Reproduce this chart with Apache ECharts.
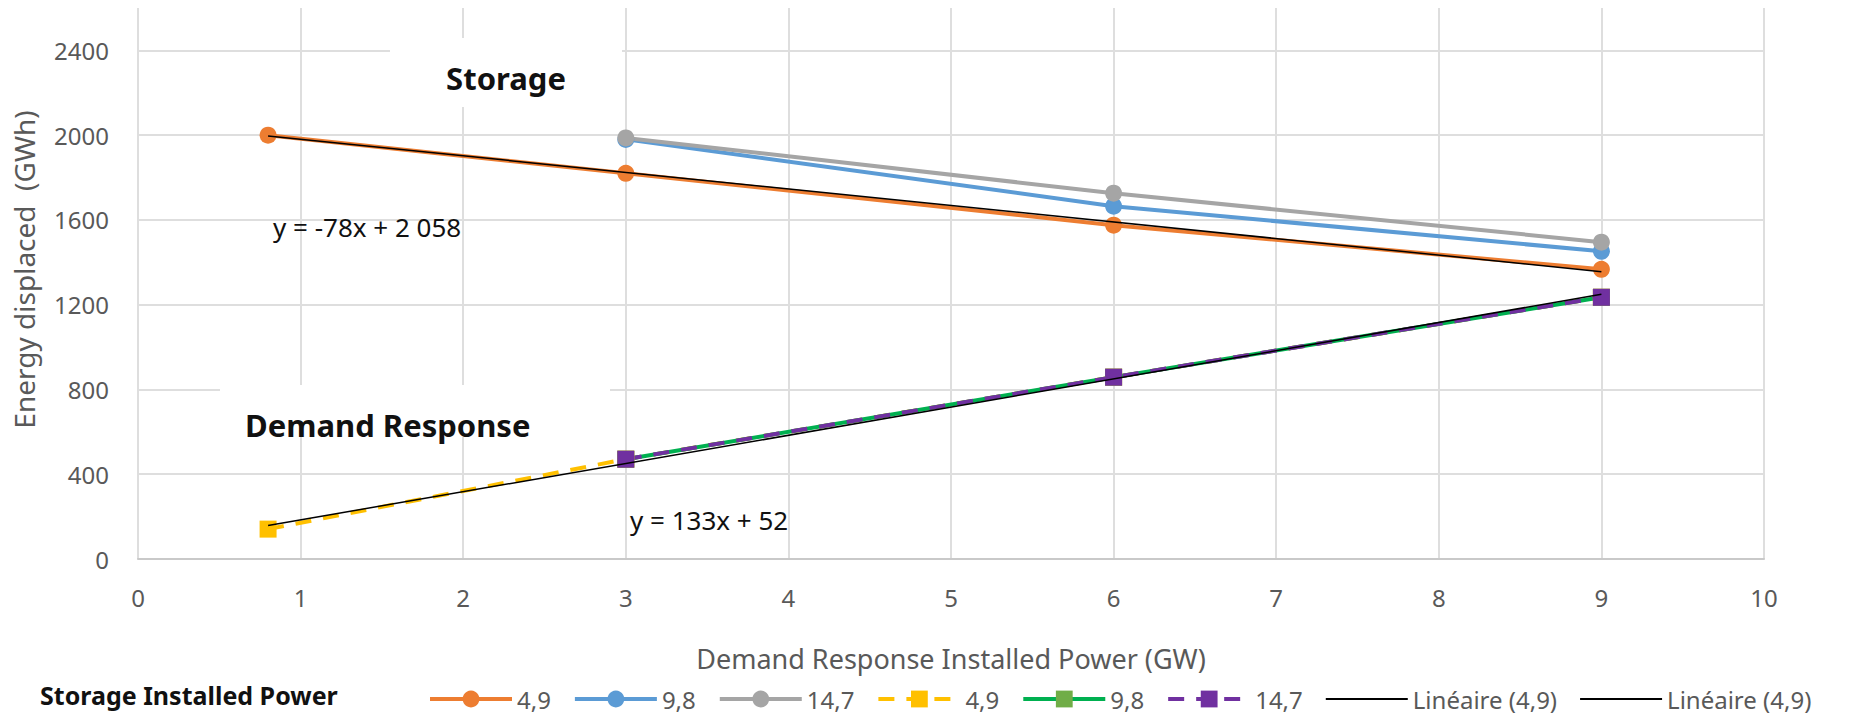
<!DOCTYPE html>
<html lang="en" style="height: 100%">

<head>
  <meta charset="utf-8">
</head>

<body style="height: 100%; margin: 0">
  <div id="container" style="width: 1849px; height: 721px"></div>

  <script type="text/javascript" src="https://fastly.jsdelivr.net/npm/echarts@6/dist/echarts.min.js"></script>

  <script type="text/javascript">
    // x positions (GW of demand response installed)
    var xStorage49 = [0.8, 3, 6, 9];
    var xStorageOther = [3, 6, 9];
    var xDr49 = [0.8, 3, 6, 9];
    var xDrOther = [3, 6, 9];

    // energy displaced (GWh)
    var storage49 = [2000, 1820, 1575, 1367];
    var storage98 = [1980, 1665, 1452];
    var storage147 = [1987, 1726, 1495];
    var dr49 = [141, 471, 858, 1235];
    var dr98 = [471, 858, 1235];
    var dr147 = [471, 858, 1235];

    // linear trend lines, end points
    var trendStorageX = [0.8, 9];
    var trendStorageY = [1996, 1356];
    var trendDrX = [0.8, 9];
    var trendDrY = [158, 1249];

    var xTicks = [0, 1, 2, 3, 4, 5, 6, 7, 8, 9, 10];
    var yTicks = [0, 400, 800, 1200, 1600, 2000, 2400];

    var legendLabels = {
      's49': '4,9', 's98': '9,8', 's147': '14,7',
      'd49': '4,9', 'd98': '9,8', 'd147': '14,7',
      'ts': 'Linéaire (4,9)', 'td': 'Linéaire (4,9)'
    };

    function zip(xs, ys) {
      return xs.map(function (x, i) { return [x, ys[i]]; });
    }

    var dom = document.getElementById('container');
    var myChart = echarts.init(dom, null, { renderer: 'svg' });

    var grey = '#595959';
    var font = 'Noto Sans';

    var legendData = ['s49', 's98', 's147', 'd49', 'd98', 'd147'].map(function (n) {
      return { name: n, lineStyle: { width: 4 } };
    }).concat([{ name: 'ts' }, { name: 'td' }]);

    var option = {
      animation: false,
      textStyle: { fontFamily: font },
      grid: { left: 138, right: 85, top: 8, bottom: 162 },
      xAxis: {
        type: 'value',
        min: xTicks[0],
        max: xTicks[xTicks.length - 1],
        interval: 1,
        name: 'Demand Response Installed Power (GW)',
        nameLocation: 'middle',
        nameGap: 86,
        nameTextStyle: { fontSize: 27, color: grey, fontFamily: font },
        axisLine: { show: true, lineStyle: { color: '#c9c9c9', width: 2 } },
        axisTick: { show: false },
        axisLabel: { fontSize: 24, color: grey, margin: 26, fontFamily: font },
        splitLine: { show: true, lineStyle: { color: '#dedede', width: 2 } }
      },
      yAxis: {
        type: 'value',
        min: yTicks[0],
        max: 2600,
        interval: 400,
        name: 'Energy displaced  (GWh)',
        nameLocation: 'middle',
        nameGap: 100,
        nameTextStyle: { fontSize: 28, color: grey, fontFamily: font, padding: [0, 0, 0, 28] },
        axisLine: { show: false },
        axisTick: { show: false },
        axisLabel: {
          fontSize: 24, color: grey, margin: 29, fontFamily: font,
          showMaxLabel: false,
          formatter: function (v) { return yTicks.indexOf(v) >= 0 ? String(v) : ''; }
        },
        splitLine: { show: true, showMaxLine: false, lineStyle: { color: '#dedede', width: 2 } }
      },
      legend: {
        left: 428,
        top: 687,
        width: 1421,
        padding: 0,
        itemWidth: 82,
        itemHeight: 21,
        itemGap: 22,
        textStyle: { fontSize: 24, color: grey, fontFamily: font },
        formatter: function (name) { return legendLabels[name]; },
        data: legendData
      },
      graphic: [
        { type: 'rect', z: 1, shape: { x: 390, y: 38, width: 232, height: 69 }, style: { fill: '#ffffff' } },
        { type: 'rect', z: 1, shape: { x: 220, y: 385, width: 390, height: 52 }, style: { fill: '#ffffff' } },
        {
          type: 'text', z: 100, x: 506, y: 78,
          style: { text: 'Storage', font: 'bold 31px "Noto Sans"', fill: '#111', align: 'center', verticalAlign: 'middle' }
        },
        {
          type: 'text', z: 100, x: 245, y: 425,
          style: { text: 'Demand Response', font: 'bold 31px "Noto Sans"', fill: '#111', align: 'left', verticalAlign: 'middle' }
        },
        {
          type: 'text', z: 100, x: 273, y: 227,
          style: { text: 'y = -78x + 2 058', font: '26px "Noto Sans"', fill: '#111', align: 'left', verticalAlign: 'middle' }
        },
        {
          type: 'text', z: 100, x: 630, y: 520,
          style: { text: 'y = 133x + 52', font: '26px "Noto Sans"', fill: '#111', align: 'left', verticalAlign: 'middle' }
        },
        {
          type: 'text', z: 100, x: 40, y: 695,
          style: { text: 'Storage Installed Power', font: 'bold 25px "Noto Sans"', fill: '#111', align: 'left', verticalAlign: 'middle' }
        }
      ],
      series: [
        {
          name: 's49', type: 'line', data: zip(xStorage49, storage49),
          symbol: 'circle', symbolSize: 17,
          itemStyle: { color: '#ED7D31' }, lineStyle: { color: '#ED7D31', width: 4 }
        },
        {
          name: 's98', type: 'line', data: zip(xStorageOther, storage98),
          symbol: 'circle', symbolSize: 17,
          itemStyle: { color: '#5B9BD5' }, lineStyle: { color: '#5B9BD5', width: 4 }
        },
        {
          name: 's147', type: 'line', data: zip(xStorageOther, storage147),
          symbol: 'circle', symbolSize: 17,
          itemStyle: { color: '#A5A5A5' }, lineStyle: { color: '#A5A5A5', width: 4 }
        },
        {
          name: 'd49', type: 'line', data: zip(xDr49, dr49),
          symbol: 'rect', symbolSize: 17,
          itemStyle: { color: '#FFC000' }, lineStyle: { color: '#FFC000', width: 4, type: [16, 12] }
        },
        {
          name: 'd98', type: 'line', data: zip(xDrOther, dr98),
          symbol: 'rect', symbolSize: 17,
          itemStyle: { color: '#70AD47' }, lineStyle: { color: '#00B050', width: 4 }
        },
        {
          name: 'd147', type: 'line', data: zip(xDrOther, dr147),
          symbol: 'rect', symbolSize: 17,
          itemStyle: { color: '#7030A0' }, lineStyle: { color: '#7030A0', width: 4, type: [16, 12] }
        },
        {
          name: 'ts', type: 'line', data: zip(trendStorageX, trendStorageY),
          symbol: 'none', z: 5,
          lineStyle: { color: '#000000', width: 1.5 }, itemStyle: { color: 'rgba(0,0,0,0)' }
        },
        {
          name: 'td', type: 'line', data: zip(trendDrX, trendDrY),
          symbol: 'none', z: 5,
          lineStyle: { color: '#000000', width: 1.5 }, itemStyle: { color: 'rgba(0,0,0,0)' }
        }
      ]
    };

    myChart.setOption(option);
    window.addEventListener('resize', myChart.resize);
  </script>
</body>

</html>
